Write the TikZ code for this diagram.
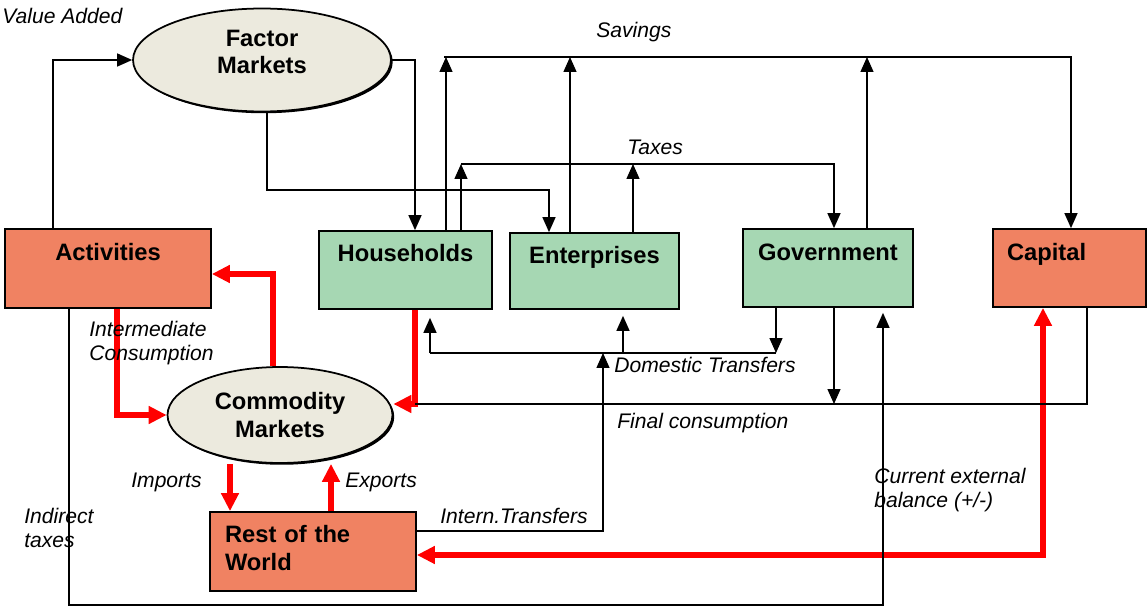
\documentclass[tikz,border=0pt]{standalone}
\usepackage{fontspec}
\setmainfont{Liberation Sans}
\usepackage{tikz}
\usetikzlibrary{arrows.meta,shapes.geometric,shadows}
\usepackage{xcolor}
\definecolor{actred}{RGB}{240,130,98}
\definecolor{instgreen}{RGB}{166,215,179}
\definecolor{mktgrey}{RGB}{236,234,222}

\begin{document}
\begin{tikzpicture}[x=0.02cm, y=-0.02cm,
    box/.style={draw, line width=1pt, inner sep=0pt,
      font=\fontsize{13.5}{15.6}\selectfont\bfseries},
    market/.style={ellipse, draw, line width=1pt, fill=mktgrey, align=center,
      drop shadow={shadow xshift=1pt, shadow yshift=-1pt, fill=black, opacity=1},
      font=\fontsize{13.5}{15.6}\selectfont\bfseries},
    lbl/.style={anchor=north west, inner sep=0pt, align=left,
      font=\fontsize{12}{13.7}\selectfont\itshape},
    link/.style={line width=0.8pt},
    flow/.style={line width=0.8pt, -{Triangle[length=0.3cm,width=0.26cm]}},
    redflow/.style={red, line width=3pt, -{Triangle[length=0.36cm,width=0.34cm]}}]
    \useasboundingbox (0,0) rectangle (1147,608);

    % Markets
    \node[market, minimum width=5.16cm, minimum height=2.06cm, text height=0.84cm, text depth=0.3cm] (fm) at (262,60) {Factor\\Markets};
    \node[market, minimum width=4.5cm, minimum height=1.92cm] (cm) at (280,415) {Commodity\\Markets};

    % Accounts
    \node[box, fill=actred, minimum width=4.12cm, text height=0.62cm, text depth=0.96cm] (act) at (108,268.5) {Activities};
    \node[box, fill=instgreen, minimum width=3.46cm, text height=0.61cm, text depth=0.95cm] (hh) at (405.5,270) {Households};
    \node[box, fill=instgreen, minimum width=3.38cm, text height=0.61cm, text depth=0.91cm] (ent) at (594.5,271) {Enterprises};
    \node[box, fill=instgreen, minimum width=3.4cm, text height=0.63cm, text depth=0.93cm] (gov) at (828,268) {Government};
    \node[box, fill=actred, minimum width=3.06cm, text width=2.5cm, inner xsep=0.28cm, align=left,
      text height=0.63cm, text depth=0.93cm] (cap) at (1069.5,268) {Capital};
    \node[box, fill=actred, minimum width=4.12cm, text width=3.52cm, inner xsep=0.3cm, align=left,
      text height=0.61cm, text depth=0.97cm, font=\fontsize{13.5}{15.9}\selectfont\bfseries] (row) at (313,551.5) {Rest of the\\World};

    % Junctions
    \coordinate (sav) at (444,57);
    \coordinate (tax) at (461,164);
    \coordinate (dom) at (430,353);
    \coordinate (fin) at (415,404);
    \coordinate (bot) at (883,605);
    \coordinate (ext) at (1043,555);

    % Commodity flows
    \draw[redflow] (act.south -| 117,0) |- (cm.west);
    \draw[redflow] (cm.north -| 273,0) |- (act.east |- 0,274);
    \draw[redflow] (hh.south -| 415,0) |- (cm.east |- fin);
    \draw[redflow] (cm.south -| 230,0) -- (row.north -| 230,0);
    \draw[redflow] (row.north -| 331,0) -- (cm.south -| 331,0);
    \draw[redflow, {Triangle[length=0.36cm,width=0.34cm]}-{Triangle[length=0.36cm,width=0.34cm]}]
      (row.east |- ext) -| (cap.south -| ext);

    % Value added and factor income
    \draw[flow] (act.north -| 53,0) |- (fm.west);
    \draw[flow] (fm.east) -| (hh.north -| 415,0);
    \draw[flow] (fm.south -| 267,0) -- (267,190) -| (ent.north -| 549,0);

    % Savings
    \draw[flow] (sav) -| (cap.north -| 1071,0);
    \draw[flow] (hh.north -| 446,0) -- (sav -| 446,0);
    \draw[flow] (ent.north -| 570,0) -- (sav -| 570,0);
    \draw[flow] (gov.north -| 867,0) -- (sav -| 867,0);

    % Taxes
    \draw[flow] (tax) -| (gov.north -| 834,0);
    \draw[flow] (hh.north -| 461,0) -- (tax);
    \draw[flow] (ent.north -| 633,0) -- (tax -| 633,0);

    % Domestic transfers
    \draw[flow] (gov.south -| 776,0) -- (dom -| 776,0);
    \draw[link] (dom -| 776,0) -- (dom);
    \draw[flow, shorten >=0.16cm] (dom) -- (hh.south -| 430,0);
    \draw[flow, shorten >=0.12cm] (dom -| 623,0) -- (ent.south -| 623,0);

    % Final consumption
    \draw[link] (cap.south -| 1087,0) |- (fin);
    \draw[flow] (gov.south -| 834,0) -- (fin -| 834,0);

    % Indirect taxes and transfers from abroad
    \draw[flow, shorten >=0.1cm] (act.south -| 69,0) |- (bot) -- (gov.south -| 883,0);
    \draw[flow] (row.east |- 0,531) -| (dom -| 603,0);

    % Labels
    \node[lbl] (valueadded) at (2,8) {Value Added};
    \node[lbl] (savings) at (596,22) {Savings};
    \node[lbl] (taxes) at (627,140) {Taxes};
    \node[lbl] (interm) at (89,321) {Intermediate\\Consumption};
    \node[lbl] (domtr) at (614,357) {Domestic Transfers};
    \node[lbl] (finc) at (617,413) {Final consumption};
    \node[lbl] (imports) at (131,473) {Imports};
    \node[lbl] (exports) at (345,473) {Exports};
    \node[lbl] (indtax) at (24,508) {Indirect\\taxes};
    \node[lbl] (intertr) at (440,508) {Intern.Transfers};
    \node[lbl] (extbal) at (874,468) {Current external\\balance (+/-)};
\end{tikzpicture}
\end{document}
